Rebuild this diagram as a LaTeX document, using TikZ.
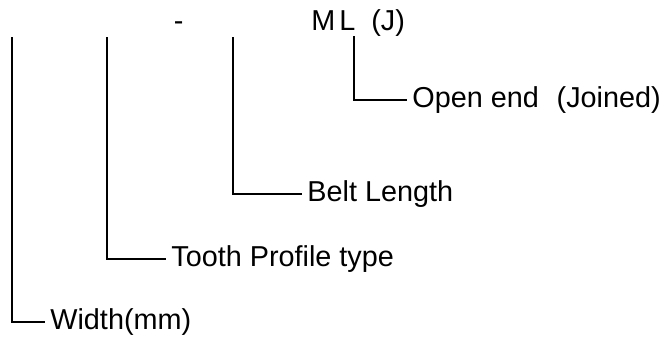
\documentclass[tikz,border=0pt]{standalone}
\usepackage{fontspec}
\setmainfont{Liberation Sans}
\usetikzlibrary{positioning}

\begin{document}
\begin{tikzpicture}[
        x=0.5pt, y=0.5pt,
        lbl/.style={inner xsep=2.5pt, inner ysep=0pt, text height=0.72em, text depth=0pt, anchor=west, font=\fontsize{14.4}{17}\selectfont},
        code/.style={inner sep=0pt, anchor=base west, font=\fontsize{14.4}{17}\selectfont},
        leader/.style={line width=0.6pt}
    ]
        \useasboundingbox (0,0) rectangle (664,-338);

        % code letters on top
        \node[code] (dash) at (173.5,-30) {-};
        \node[code] (m) at (311,-30) {M};
        \node[code] (l) at (339,-30) {L};
        \node[code] (j) at (371,-30) {(J)};

        % tops of the leaders
        \coordinate (wtop) at (12,-37);
        \coordinate (ttop) at (107,-37);
        \coordinate (btop) at (233,-37);
        \coordinate (otop) at (354,-36);

        % labels
        \node[lbl] (width) at (45,-322) {Width(mm)};
        \node[lbl] (tooth) at (166,-259) {Tooth Profile type};
        \node[lbl] (belt) at (302,-194) {Belt Length};
        \node[lbl] (open) at (407,-100) {Open end\hspace{0.62em}(Joined)};

        \draw[leader] (wtop) |- (width.west);
        \draw[leader] (ttop) |- (tooth.west);
        \draw[leader] (btop) |- (belt.west);
        \draw[leader] (otop) |- (open.west);
    \end{tikzpicture}
\end{document}
